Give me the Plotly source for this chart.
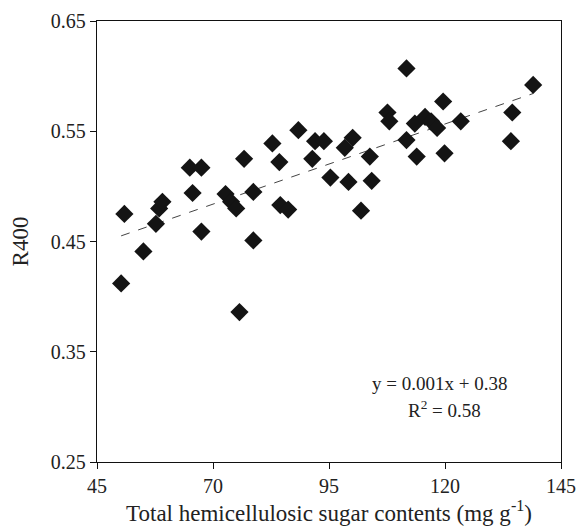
import numpy as np
import plotly.graph_objects as go

# total hemicellulosic sugar contents (mg g-1) and R400
sugar = [50.2, 50.9, 55.0, 57.7, 58.4, 59.1, 65.0, 67.5, 65.6, 67.5,
         72.7, 73.9, 75.0, 76.7, 78.7, 78.7, 75.7, 82.8, 84.3, 84.5,
         86.2, 88.4, 91.4, 92.0, 93.9, 95.3, 98.4, 100.1, 99.2, 103.8,
         104.2, 101.9, 111.7, 107.6, 108.0, 111.7, 113.9, 113.5, 115.7, 117.0,
         118.3, 119.6, 119.9, 123.4, 134.5, 134.2, 139.0]
r400 = [0.412, 0.475, 0.441, 0.466, 0.480, 0.486, 0.517, 0.517, 0.494, 0.459,
        0.493, 0.486, 0.480, 0.525, 0.495, 0.451, 0.386, 0.539, 0.522, 0.483,
        0.479, 0.551, 0.525, 0.541, 0.541, 0.508, 0.535, 0.544, 0.504, 0.527,
        0.505, 0.478, 0.607, 0.567, 0.559, 0.542, 0.527, 0.557, 0.563, 0.559,
        0.553, 0.577, 0.530, 0.559, 0.567, 0.541, 0.592]

x_ticks = [45, 70, 95, 120, 145]
y_ticks = [0.25, 0.35, 0.45, 0.55, 0.65]

slope, intercept = np.polyfit(sugar, r400, 1)
x_fit = [min(sugar), max(sugar)]
y_fit = [slope * v + intercept for v in x_fit]

tick_font = dict(family='Liberation Serif', size=20, color='#222')
title_font = dict(family='Liberation Serif', size=23, color='#222')
note_font = dict(family='Liberation Serif', size=19, color='#222')

fig = go.Figure()
fig.add_trace(go.Scatter(x=x_fit, y=y_fit, mode='lines',
                         line=dict(color='#444', width=1, dash='dash'),
                         showlegend=False))
fig.add_trace(go.Scatter(x=sugar, y=r400, mode='markers',
                         marker=dict(symbol='diamond', size=14, color='#141414'),
                         showlegend=False))

fig.add_annotation(x=0.739, y=0.179, xref='paper', yref='paper',
                   xanchor='center', yanchor='middle',
                   text='y = 0.001x + 0.38', showarrow=False, font=note_font)
fig.add_annotation(x=0.748, y=0.120, xref='paper', yref='paper',
                   xanchor='center', yanchor='middle',
                   text='R<sup>2</sup> = 0.58', showarrow=False, font=note_font)

fig.update_xaxes(range=[45, 145], tickvals=x_ticks, showgrid=False, zeroline=False,
                 showline=True, linecolor='#111', linewidth=1.3, mirror=True,
                 ticks='outside', ticklen=6, tickcolor='#111', automargin=False,
                 ticklabeloverflow='allow',
                 title=dict(text='Total hemicellulosic sugar contents (mg g<sup>-1</sup>)',
                            font=title_font, standoff=1),
                 tickfont=tick_font)
fig.update_yaxes(range=[0.25, 0.65], tickvals=y_ticks, tickformat='.2f',
                 showgrid=False, zeroline=False,
                 showline=True, linecolor='#111', linewidth=1.3, mirror=True,
                 ticks='outside', ticklen=6, tickcolor='#111', automargin=False,
                 title=dict(text='R400', font=title_font, standoff=15),
                 tickfont=tick_font)

fig.update_layout(width=577, height=526, plot_bgcolor='white', paper_bgcolor='white',
                  margin=dict(l=97, r=16, t=21, b=64))

# drop the page's default body margin so the figure fills the window
fig.write_html('out.html', config={'displayModeBar': False},
               post_script="document.body.style.margin='0';"
                           "document.body.style.overflow='hidden';")
